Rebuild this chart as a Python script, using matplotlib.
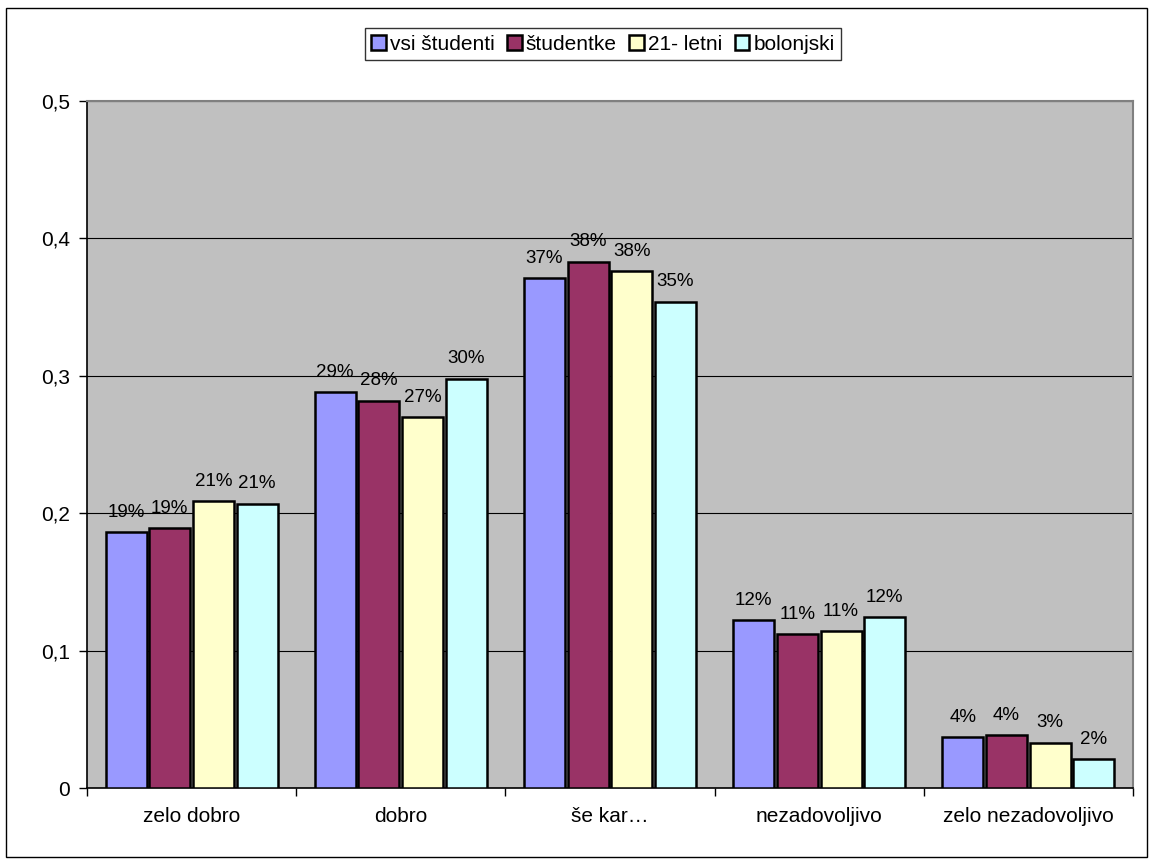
import numpy as np
import matplotlib
matplotlib.use('Agg')
import matplotlib.pyplot as plt
from matplotlib.patches import Rectangle
from matplotlib.ticker import FuncFormatter

plt.rcParams['font.family'] = ['Liberation Sans', 'DejaVu Sans']

# podatki
kategorije = ['zelo dobro', 'dobro', 'še kar…', 'nezadovoljivo', 'zelo nezadovoljivo']
serije = ['vsi študenti', 'študentke', '21- letni', 'bolonjski']
vsi_studenti = [0.186, 0.288, 0.371, 0.122, 0.037]
studentke = [0.189, 0.282, 0.383, 0.112, 0.0386]
letni_21 = [0.209, 0.270, 0.376, 0.114, 0.033]
bolonjski = [0.207, 0.298, 0.354, 0.1245, 0.021]
barve = ['#9999FF', '#993366', '#FFFFCC', '#CCFFFF']

vrednosti = [vsi_studenti, studentke, letni_21, bolonjski]

fig = plt.figure(figsize=(11.5, 8.61), dpi=100)
ax = fig.add_axes([87/1150, 1-788/861, (1133-87)/1150, (788-101)/861])
ax.set_facecolor('#C0C0C0')

x = np.arange(len(kategorije))
korak = 0.209
sirina = 0.196
for i, (ime, vals, c) in enumerate(zip(serije, vrednosti, barve)):
    pos = x + (i - 1.5) * korak
    bars = ax.bar(pos, vals, sirina, color=c, edgecolor='black', linewidth=1.8,
                  label=ime, zorder=3)
    for b, v in zip(bars, vals):
        ax.annotate(f'{v*100:.0f}%', (b.get_x() + b.get_width()/2, v),
                    xytext=(0, 11), textcoords='offset points',
                    ha='center', va='baseline', fontsize=13.5, zorder=4)

ax.set_ylim(0, 0.5)
ax.set_xlim(-0.5, 4.5)
ax.set_yticks([0, 0.1, 0.2, 0.3, 0.4, 0.5])
ax.yaxis.set_major_formatter(FuncFormatter(lambda v, p: ('%g' % round(v, 2)).replace('.', ',')))
ax.yaxis.grid(True, color='black', linewidth=0.8, zorder=1)
ax.tick_params(axis='y', direction='out', length=6, width=1, labelsize=15, pad=6)

ax.set_xticks(np.arange(-0.5, 5, 1))
ax.set_xticklabels([])
ax.set_xticks(x, minor=True)
ax.set_xticklabels(kategorije, minor=True)
ax.tick_params(axis='x', which='major', direction='out', length=6, width=1)
ax.tick_params(axis='x', which='minor', length=0, labelsize=15, pad=14)

for s in ['left', 'bottom']:
    ax.spines[s].set_color('black')
    ax.spines[s].set_linewidth(1.2)
for s in ['top', 'right']:
    ax.spines[s].set_color('#808080')
    ax.spines[s].set_linewidth(1.5)

leg = fig.legend(loc='center', bbox_to_anchor=(603/1150, 1-44/861), ncol=4,
                 fontsize=15, frameon=True, fancybox=False, edgecolor='black',
                 handlelength=0.7, handleheight=0.7, handletextpad=0.2,
                 columnspacing=0.6, borderpad=0.3, borderaxespad=0)
leg.get_frame().set_linewidth(1.0)

fig.patches.append(Rectangle((6/1150, 1-857/861), 1141/1150, 849/861,
                             transform=fig.transFigure, fill=False,
                             edgecolor='black', linewidth=1.0))

fig.savefig('out.png', dpi=100, facecolor='white')
